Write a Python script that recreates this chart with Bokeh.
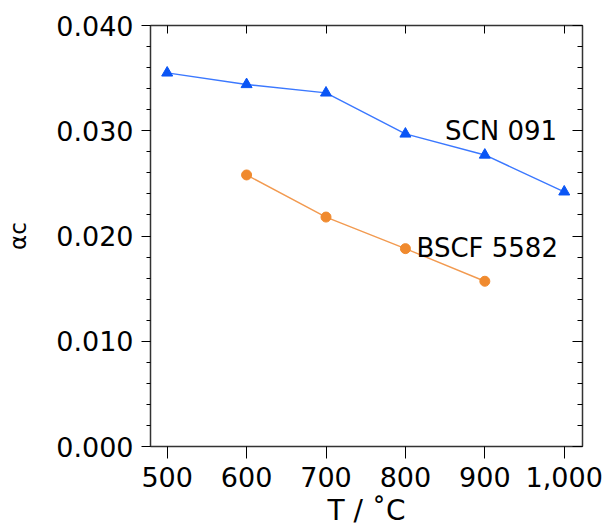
from bokeh.plotting import figure
from bokeh.models import (LinearAxis, FixedTicker, NumeralTickFormatter, Label, Range1d,
                          CustomJSTickFormatter)
from bokeh.embed import file_html
from bokeh.resources import INLINE

# data
temps_scn = [500, 600, 700, 800, 900, 1000]
alpha_scn = [0.0355, 0.0344, 0.0336, 0.0297, 0.0277, 0.0242]
temps_bscf = [600, 700, 800, 900]
alpha_bscf = [0.0258, 0.0218, 0.0188, 0.0157]
x_ticks = [500, 600, 700, 800, 900, 1000]
y_ticks = [0.0, 0.01, 0.02, 0.03, 0.04]
y_minor = [round(i * 0.002, 3) for i in range(21)]

FONT = "DejaVu Sans"
BLUE_LINE = "#3b78ff"
BLUE = "#0a55f5"
ORANGE_LINE = "#f29a50"
ORANGE = "#f08a2e"

p = figure(width=606, height=529, output_backend="svg", toolbar_location=None,
           x_range=Range1d(479, 1023), y_range=Range1d(0, 0.040),
           min_border_left=150, min_border_right=24, min_border_top=25, min_border_bottom=83)
p.grid.visible = False
p.outline_line_color = None
p.background_fill_color = "white"
p.border_fill_color = "white"

# series
p.line(temps_scn, alpha_scn, line_color=BLUE_LINE, line_width=1.4)
p.scatter(temps_scn, alpha_scn, marker="triangle", size=11, fill_color=BLUE, line_color=BLUE)
p.line(temps_bscf, alpha_bscf, line_color=ORANGE_LINE, line_width=1.4)
p.scatter(temps_bscf, alpha_bscf, marker="circle", size=10, fill_color=ORANGE, line_color=ORANGE)

# bottom axis
xa = p.xaxis[0]
xa.ticker = FixedTicker(ticks=x_ticks, minor_ticks=[])
xa.formatter = NumeralTickFormatter(format="0,0")
xa.major_tick_out = 12
xa.major_tick_in = 0
xa.minor_tick_out = 0
xa.major_label_standoff = 8
xa.major_label_text_font = FONT
xa.major_label_text_font_size = "27px"
xa.major_label_text_color = "black"
xa.axis_label = "T / ˚C"
xa.axis_label_text_font = FONT
xa.axis_label_text_font_size = "28px"
xa.axis_label_text_font_style = "normal"
xa.axis_label_text_color = "black"
xa.axis_label_standoff = 4
xa.axis_line_width = 1.5
xa.axis_line_color = "#333333"
xa.major_tick_line_color = "black"

# left axis
ya = p.yaxis[0]
ya.ticker = FixedTicker(ticks=y_ticks, minor_ticks=y_minor)
ya.formatter = NumeralTickFormatter(format="0.000")
ya.major_tick_out = 9
ya.major_tick_in = 0
ya.minor_tick_out = 4
ya.minor_tick_in = 0
ya.major_label_standoff = 8
ya.major_label_text_font = FONT
ya.major_label_text_font_size = "27px"
ya.major_label_text_color = "black"
ya.axis_label = "αᴄ"
ya.axis_label_text_font = FONT
ya.axis_label_text_font_size = "23px"
ya.axis_label_text_font_style = "normal"
ya.axis_label_text_color = "black"
ya.axis_label_standoff = 22
ya.axis_line_width = 1.5
ya.axis_line_color = "#333333"
ya.major_tick_line_color = "black"
ya.minor_tick_line_color = "black"

empty = CustomJSTickFormatter(code="return ''")

# right axis (ticks inward, no labels)
ra = LinearAxis(ticker=FixedTicker(ticks=y_ticks, minor_ticks=y_minor), formatter=empty,
                major_tick_in=10, major_tick_out=0, minor_tick_in=5, minor_tick_out=0,
                major_label_standoff=0,
                axis_line_width=1.5, axis_line_color="#333333")
p.add_layout(ra, "right")

# top axis (ticks inward, no labels)
ta = LinearAxis(ticker=FixedTicker(ticks=x_ticks, minor_ticks=[]), formatter=empty,
                major_tick_in=8, major_tick_out=0, minor_tick_in=0, minor_tick_out=0,
                major_label_standoff=0,
                axis_line_width=1.5, axis_line_color="#333333")
p.add_layout(ta, "above")

# series labels
p.add_layout(Label(x=850, y=0.0300, text="SCN 091", text_font=FONT, text_font_size="26px",
                   text_color="black", text_align="left", text_baseline="alphabetic"))
p.add_layout(Label(x=814, y=0.0189, text="BSCF 5582", text_font=FONT, text_font_size="26px",
                   text_color="black", text_align="left", text_baseline="alphabetic"))

open("out.html", "w").write(file_html(p, INLINE))
